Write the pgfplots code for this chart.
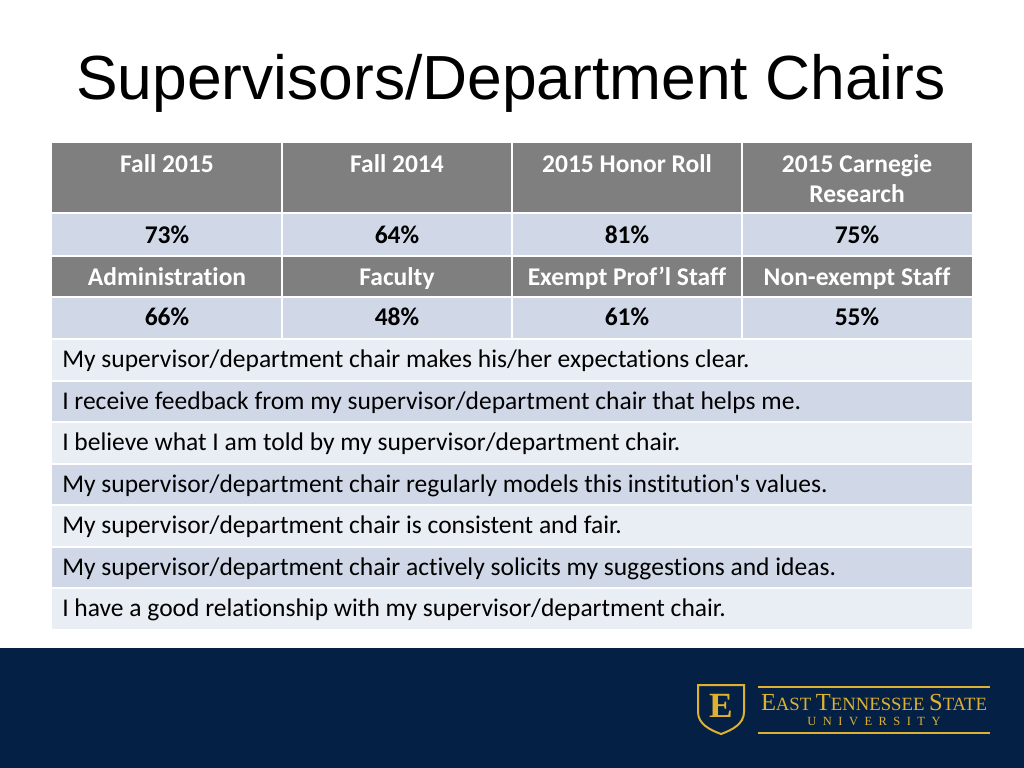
\documentclass[border=0pt]{standalone}
\usepackage{pgfplots}
\pgfplotsset{compat=1.18}
\usepackage{pgfplotstable}
\usepackage{fontspec}
\setmainfont{Carlito}[Ligatures={TeX,CommonOff}]
\newfontfamily\titlefont{Liberation Sans}
\newfontfamily\logofont{Liberation Serif}
\newfontfamily\logospaced[LetterSpace=52]{Liberation Serif}
\definecolor{hdrgray}{RGB}{127,127,127}
\definecolor{rowblue}{RGB}{208,216,232}
\definecolor{rowlight}{RGB}{233,237,244}
\definecolor{navy}{RGB}{4,32,68}
\definecolor{etsugold}{RGB}{222,178,48}

\pgfplotstableread{
x y v
167 243 73
397 243 64
627 243 81
857 243 75
167 325 66
397 325 48
627 325 61
857 325 55
}\pcttable

\begin{document}
\begin{tikzpicture}
\begin{axis}[scale only axis, width=720bp, height=540bp,
  xmin=0, xmax=1024, ymin=0, ymax=768, y dir=reverse,
  axis lines=none, ticks=none, clip=false]
\fill[white] (0,0) rectangle (1024,768);
\fill[navy] (0,648) rectangle (1024,768);
% title
\node[anchor=base, inner sep=0pt, font=\titlefont\fontsize{44}{50}\selectfont] at (511,100) {Supervisors/Department Chairs};
% table rows
\fill[hdrgray] (52,143) rectangle (972,212);
\fill[rowblue] (52,214) rectangle (972,255);
\fill[hdrgray] (52,257) rectangle (972,296);
\fill[rowblue] (52,298) rectangle (972,338);
\fill[rowlight] (52,340) rectangle (972,380);
\fill[rowblue] (52,382) rectangle (972,421);
\fill[rowlight] (52,423) rectangle (972,463);
\fill[rowblue] (52,465) rectangle (972,504);
\fill[rowlight] (52,506) rectangle (972,546);
\fill[rowblue] (52,548) rectangle (972,587);
\fill[rowlight] (52,589) rectangle (972,629);
\draw[white, line width=1.2bp] (282,143) -- (282,338);
\draw[white, line width=1.2bp] (512,143) -- (512,338);
\draw[white, line width=1.2bp] (742,143) -- (742,338);
% header texts
\begin{scope}[every node/.style={anchor=base, inner sep=0pt, text=white, font=\fontsize{18}{21.6}\selectfont\bfseries}]
\node at (167,172) {Fall 2015};
\node at (397,172) {Fall 2014};
\node at (627,172) {2015 Honor Roll};
\node at (857,172) {2015 Carnegie};
\node at (857,202) {Research};
\node at (167,285) {Administration};
\node at (397,285) {Faculty};
\node at (627,285) {Exempt Prof’l Staff};
\node at (857,285) {Non-exempt Staff};
\end{scope}
% percentages
\addplot[only marks, mark=*, mark size=0pt, mark options={opacity=0, draw=none, fill=none},
  point meta=explicit symbolic,
  nodes near coords={\pgfplotspointmeta\%},
  every node near coord/.append style={anchor=base, inner sep=0pt, opacity=1, text opacity=1, text=black, font=\fontsize{18}{21.6}\selectfont\bfseries}]
  table[x=x, y=y, meta=v] {\pcttable};
% statements
\begin{scope}[every node/.style={anchor=base west, inner sep=0pt, text=black, font=\fontsize{18}{21.6}\selectfont}]
\node at (62,367) {My supervisor/department chair makes his/her expectations clear.};
\node at (62,409) {I receive feedback from my supervisor/department chair that helps me.};
\node at (62,450) {I believe what I am told by my supervisor/department chair.};
\node at (62,492) {My supervisor/department chair regularly models this institution\textquotesingle s values.};
\node at (62,533) {My supervisor/department chair is consistent and fair.};
\node at (62,575) {My supervisor/department chair actively solicits my suggestions and ideas.};
\node at (62,616) {I have a good relationship with my supervisor/department chair.};
\end{scope}
% logo
\draw[etsugold, line width=1.4bp] (698,685) -- (744,685) -- (744,712)
  .. controls (744,724) and (732,730) .. (721,734)
  .. controls (710,730) and (698,724) .. (698,712) -- cycle;
\node[anchor=base, inner sep=0pt, text=etsugold, font=\logofont\bfseries\fontsize{25}{25}\selectfont] at (721,717) {E};
\draw[etsugold, line width=1.2bp] (758,687) -- (990,687);
\draw[etsugold, line width=1.2bp] (758,733) -- (990,733);
\node[anchor=base, inner sep=0pt, text=etsugold, font=\logofont] at (874,710)
  {\fontsize{17.3}{18}\selectfont E\fontsize{13.2}{14}\selectfont AST \fontsize{17.3}{18}\selectfont T\fontsize{13.2}{14}\selectfont ENNESSEE \fontsize{17.3}{18}\selectfont S\fontsize{13.2}{14}\selectfont TATE};
\node[anchor=base, inner sep=0pt, text=etsugold, font=\logospaced\fontsize{8.8}{10}\selectfont] at (874,725) {UNIVERSITY};
\end{axis}
\end{tikzpicture}
\end{document}
